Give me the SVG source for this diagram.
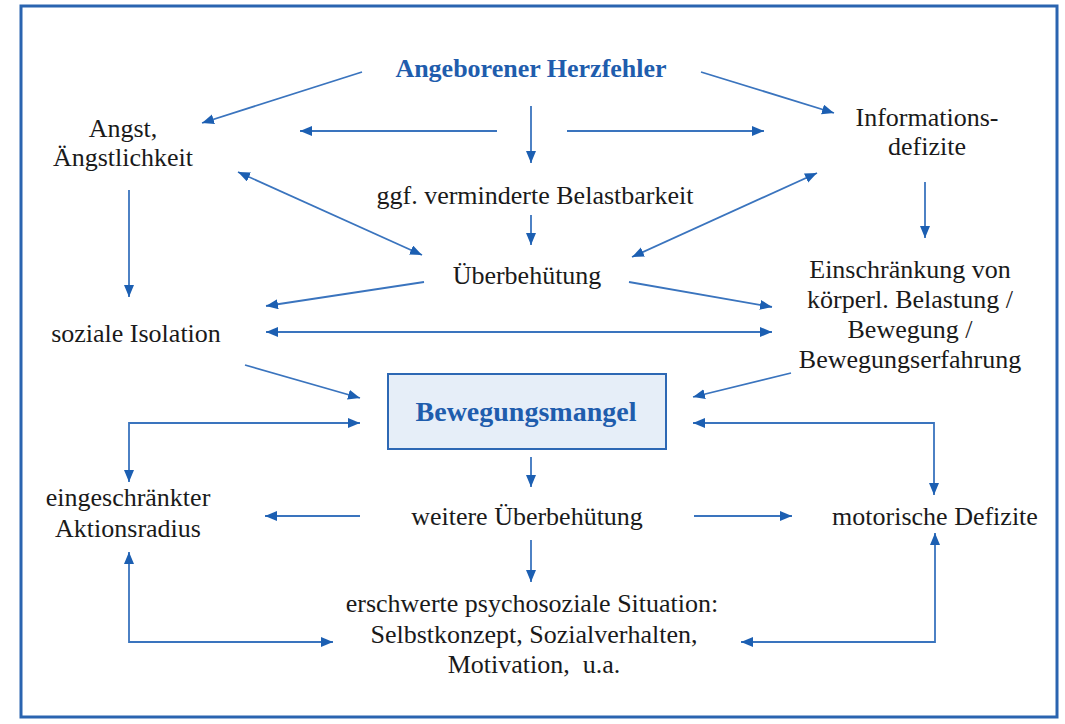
<svg xmlns="http://www.w3.org/2000/svg" width="1065" height="724" viewBox="0 0 1065 724">
<style>
.t{font-family:"Liberation Serif","Times New Roman",serif;font-size:26px;fill:#1a1a1a;text-anchor:middle;white-space:pre}
.h{font-family:"Liberation Serif","Times New Roman",serif;font-weight:bold;fill:#1F5DAD;text-anchor:middle}
.c{stroke:#3A74BE;stroke-width:1.8;fill:none}
</style>
<defs>
<marker id="ah" markerUnits="userSpaceOnUse" markerWidth="13" markerHeight="11" refX="12" refY="5" orient="auto-start-reverse" viewBox="0 0 13 11">
<path d="M0,0 L12,5 L0,10 z" fill="#1C5FB2"/>
</marker>
</defs>
<rect width="1065" height="724" fill="#fff"/>
<rect x="21" y="6" width="1036" height="711" fill="none" stroke="#2A64B0" stroke-width="3"/>
<g id="connectors" class="c">
<line x1="362" y1="72" x2="202" y2="123" marker-end="url(#ah)"/>
<line x1="497" y1="131" x2="300" y2="131" marker-end="url(#ah)"/>
<line x1="531" y1="106" x2="531" y2="163" marker-end="url(#ah)"/>
<line x1="567" y1="131" x2="764" y2="131" marker-end="url(#ah)"/>
<line x1="701" y1="72" x2="834" y2="113" marker-end="url(#ah)"/>
<line x1="129" y1="190" x2="129" y2="297" marker-end="url(#ah)"/>
<line x1="238" y1="172" x2="422" y2="255" marker-start="url(#ah)" marker-end="url(#ah)"/>
<line x1="531" y1="215" x2="531" y2="245" marker-end="url(#ah)"/>
<line x1="817" y1="173" x2="632" y2="257" marker-start="url(#ah)" marker-end="url(#ah)"/>
<line x1="925" y1="182" x2="925" y2="238" marker-end="url(#ah)"/>
<line x1="424" y1="282" x2="266" y2="306" marker-end="url(#ah)"/>
<line x1="629" y1="282" x2="772" y2="307" marker-end="url(#ah)"/>
<line x1="266" y1="332" x2="772" y2="332" marker-start="url(#ah)" marker-end="url(#ah)"/>
<line x1="245" y1="365" x2="360" y2="398" marker-end="url(#ah)"/>
<line x1="791" y1="373" x2="693" y2="397" marker-end="url(#ah)"/>
<path d="M360,423 H129 V482" marker-start="url(#ah)" marker-end="url(#ah)"/>
<path d="M693,423 H934 V495" marker-start="url(#ah)" marker-end="url(#ah)"/>
<line x1="531" y1="457" x2="531" y2="487" marker-end="url(#ah)"/>
<line x1="360" y1="516" x2="265" y2="516" marker-end="url(#ah)"/>
<line x1="694" y1="516" x2="792" y2="516" marker-end="url(#ah)"/>
<line x1="531" y1="540" x2="531" y2="582" marker-end="url(#ah)"/>
<path d="M129,552 V642 H333" marker-start="url(#ah)" marker-end="url(#ah)"/>
<path d="M935,533 V642 H741" marker-start="url(#ah)" marker-end="url(#ah)"/>
</g>
<g id="herzfehler"><text class="h" x="531" y="77" font-size="26">Angeborener Herzfehler</text></g>
<g id="angst"><text class="t" x="123" y="137">Angst,</text><text class="t" x="123" y="166">Ängstlichkeit</text></g>
<g id="info"><text class="t" x="927" y="126">Informations-</text><text class="t" x="927" y="155">defizite</text></g>
<g id="belastbarkeit"><text class="t" x="535" y="204">ggf. verminderte Belastbarkeit</text></g>
<g id="ueberbehuetung"><text class="t" x="527" y="284">Überbehütung</text></g>
<g id="einschraenkung"><text class="t" x="910" y="278">Einschränkung von</text><text class="t" x="910" y="308">körperl. Belastung /</text><text class="t" x="910" y="338">Bewegung /</text><text class="t" x="910" y="368">Bewegungserfahrung</text></g>
<g id="isolation"><text class="t" x="136" y="342">soziale Isolation</text></g>
<g id="bewegungsmangel"><rect x="388" y="374" width="278" height="75" fill="#E6EEF8" stroke="#2D68B4" stroke-width="2"/><text class="h" x="526" y="421" font-size="28">Bewegungsmangel</text></g>
<g id="aktionsradius"><text class="t" x="128" y="506">eingeschränkter</text><text class="t" x="128" y="537">Aktionsradius</text></g>
<g id="weitere"><text class="t" x="527" y="525">weitere Überbehütung</text></g>
<g id="motorisch"><text class="t" x="935" y="525">motorische Defizite</text></g>
<g id="psychosozial"><text class="t" x="532" y="612">erschwerte psychosoziale Situation:</text><text class="t" x="534" y="643">Selbstkonzept, Sozialverhalten,</text><text class="t" x="534" y="673">Motivation,  u.a.</text></g>
</svg>
